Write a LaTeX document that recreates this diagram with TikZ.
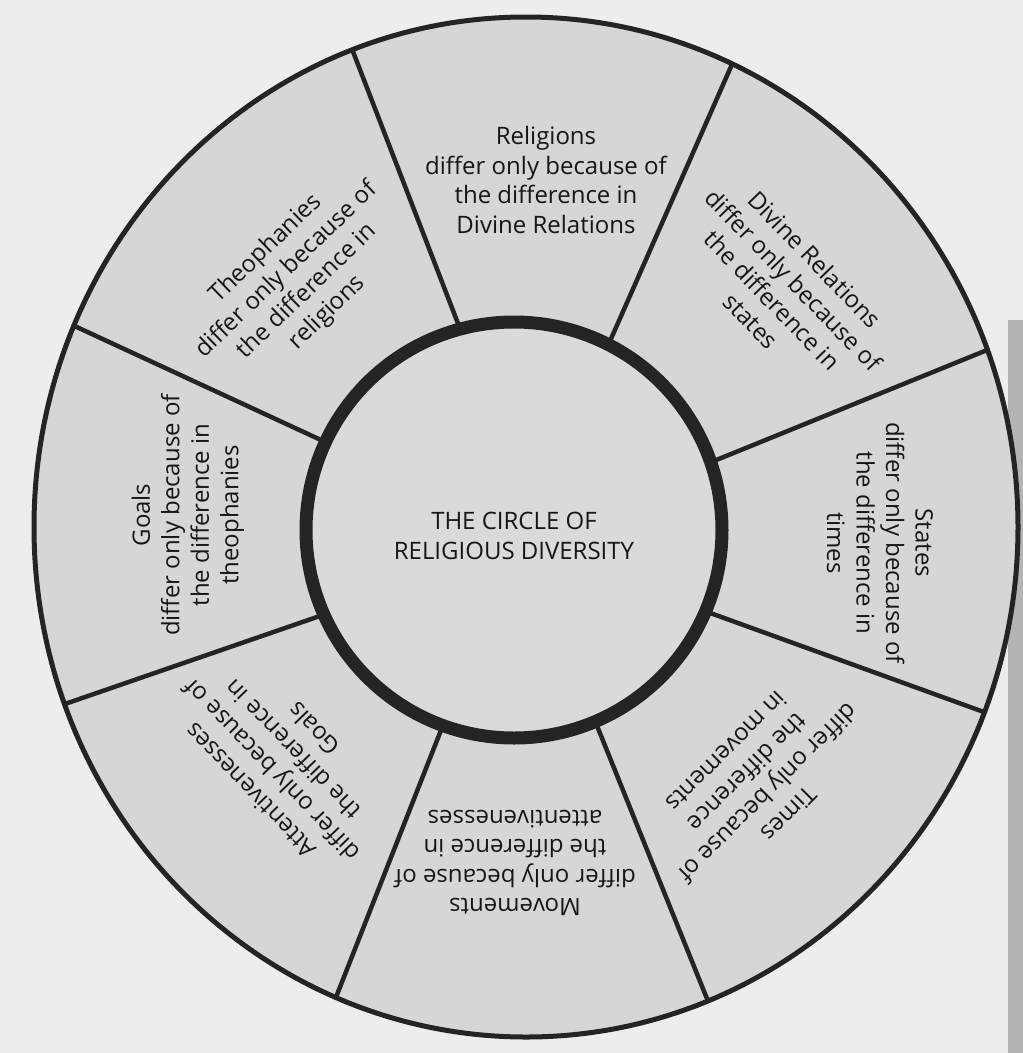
\documentclass[tikz,border=0pt]{standalone}
\usepackage{fontspec}
\setmainfont{Open Sans}
\usetikzlibrary{shapes.geometric}
\definecolor{paper}{HTML}{EDEDED}
\definecolor{ringgray}{HTML}{D6D6D6}
\definecolor{innergray}{HTML}{DADADA}
\definecolor{ink}{HTML}{242424}
\definecolor{textink}{HTML}{161616}
\definecolor{gutter}{HTML}{B4B4B4}
\tikzset{
  wheeltext/.style={align=center, text=textink, inner sep=0pt,
    font=\fontsize{24}{29.5}\selectfont},
  spoke/.style={draw=ink, line width=4.5pt},
}
\begin{document}
\begin{tikzpicture}[x=1pt,y=-1pt]
\useasboundingbox (0,0) rectangle (1023,1053);
\fill[paper] (0,0) rectangle (1023,1053);
\fill[gutter] (1008,320) rectangle (1023,1053);
% outer circle
\node[ellipse, draw=ink, fill=ringgray, line width=5pt, minimum width=984pt,
      minimum height=1020pt, inner sep=0pt, outer sep=0pt] (outer) at (526,527) {};
% inner circle fill
\node[circle, fill=innergray, minimum size=416pt, inner sep=0pt, outer sep=0pt]
      (innerfill) at (514,530) {};
% spokes
\draw[spoke] (innerfill.105.9) -- (outer.110.1);
\draw[spoke] (innerfill.63.5)  -- (outer.66.5);
\draw[spoke] (innerfill.19.0)  -- (outer.21.7);
\draw[spoke] (innerfill.-23.2) -- (outer.-22.6);
\draw[spoke] (innerfill.-67.0) -- (outer.-69.1);
\draw[spoke] (innerfill.-110.4) -- (outer.-112.7);
\draw[spoke] (innerfill.-156.5) -- (outer.-159.1);
\draw[spoke] (innerfill.155.1) -- (outer.156.8);
\node[circle, draw=ink, line width=13pt, minimum size=416pt, inner sep=0pt,
      outer sep=0pt] (inner) at (514,530) {};
% texts
\node[wheeltext] (center) at (514,536) {THE CIRCLE OF\\RELIGIOUS DIVERSITY};
\node[wheeltext] (religions) at (546,180)
  {Religions\\differ only because of\\the difference in\\Divine Relations};
\node[wheeltext, rotate=-46] (divine) at (783,290)
  {Divine Relations\\differ only because of\\the difference in\\states};
\node[wheeltext, rotate=-90] (states) at (880,543)
  {States\\differ only because of\\the difference in\\times};
\node[wheeltext, rotate=-135] (times) at (758,783)
  {Times\\differ only because of\\the difference\\in movements};
\node[wheeltext, rotate=180] (movements) at (515,863)
  {Movements\\differ only because of\\the difference in\\attentivenesses};
\node[wheeltext, rotate=134] (attent) at (282,760)
  {Attentivenesses\\differ only because of\\the difference in\\Goals};
\node[wheeltext, rotate=90] (goals) at (188,515)
  {Goals\\differ only because of\\the difference in\\theophanies};
\node[wheeltext, rotate=44] (theoph) at (297,281)
  {Theophanies\\differ only because of\\the difference in\\religions};
\end{tikzpicture}
\end{document}
